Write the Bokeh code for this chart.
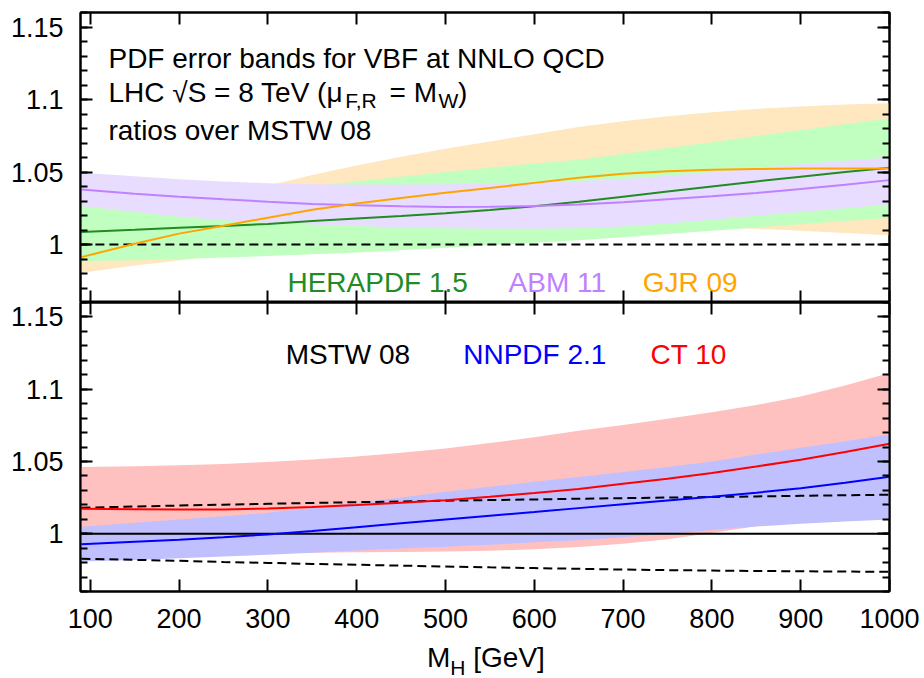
import numpy as np
from bokeh.plotting import figure
from bokeh.layouts import column
from bokeh.models import FixedTicker, LinearAxis, Label, Range1d, Div
from bokeh.embed import file_html
from bokeh.resources import INLINE

# Higgs mass grid [GeV]
mh = [90, 150, 200, 250, 300, 350, 400, 450, 500, 550, 600, 650, 700, 750, 800, 850, 900, 950, 1000]

# ---- upper panel: ratios over MSTW 08 ----
gjr_c = [0.9913, 1.0005, 1.0075, 1.0130, 1.0185, 1.0240, 1.0283, 1.0320, 1.0357, 1.0390, 1.0425, 1.0460,
         1.0488, 1.0505, 1.0515, 1.0521, 1.0524, 1.0525, 1.0525]
gjr_hi = [1.012, 1.020, 1.027, 1.034, 1.0405, 1.048, 1.0545, 1.0605, 1.066, 1.071, 1.076, 1.081,
          1.085, 1.0885, 1.0912, 1.0935, 1.0952, 1.0965, 1.0975]
gjr_lo = [0.9805, 0.9855, 0.9890, 0.9930, 0.9965, 1.0000, 1.0030, 1.0055, 1.0075, 1.0090, 1.0100, 1.0110,
          1.0115, 1.0118, 1.0115, 1.0108, 1.0095, 1.0080, 1.0064]

hera_c = [1.0087, 1.0102, 1.0115, 1.0127, 1.0142, 1.0162, 1.0180, 1.0197, 1.0215, 1.0238, 1.0264, 1.0295,
          1.0330, 1.0365, 1.0400, 1.0435, 1.0468, 1.0500, 1.0530]
hera_hi = [1.027, 1.030, 1.032, 1.0345, 1.037, 1.040, 1.0435, 1.0468, 1.050, 1.053, 1.0558, 1.0585,
           1.0625, 1.0665, 1.0705, 1.0748, 1.079, 1.083, 1.087]
hera_lo = [0.9885, 0.9892, 0.9900, 0.9910, 0.9920, 0.9932, 0.9945, 0.9960, 0.9978, 0.9995, 1.0012, 1.0030,
           1.0050, 1.0072, 1.0095, 1.0118, 1.0140, 1.0162, 1.0184]

abm_c = [1.0380, 1.0350, 1.0330, 1.0312, 1.0295, 1.0280, 1.0270, 1.0263, 1.0259, 1.0260, 1.0265, 1.0276,
         1.0292, 1.0312, 1.0332, 1.0355, 1.0382, 1.0412, 1.0444]
abm_hi = [1.0494, 1.0470, 1.0450, 1.0435, 1.0423, 1.0416, 1.0413, 1.0413, 1.0415, 1.0420, 1.0428, 1.0438,
          1.0452, 1.0475, 1.0500, 1.0527, 1.0553, 1.0577, 1.0600]
abm_lo = [1.0265, 1.0225, 1.0192, 1.0168, 1.0150, 1.0138, 1.0128, 1.0118, 1.0112, 1.0108, 1.0108, 1.0112,
          1.0125, 1.0145, 1.0170, 1.0198, 1.0225, 1.0250, 1.0276]

# ---- lower panel ----
ct_c = [1.0173, 1.0170, 1.0168, 1.0168, 1.0175, 1.0185, 1.0198, 1.0215, 1.0232, 1.0255, 1.0282, 1.0310,
        1.0345, 1.0380, 1.0420, 1.0465, 1.0512, 1.0565, 1.0622]
ct_hi = [1.0461, 1.0466, 1.0473, 1.0483, 1.0497, 1.0514, 1.0535, 1.0560, 1.0590, 1.0627, 1.0668, 1.0712,
         1.0752, 1.0795, 1.0840, 1.0890, 1.0950, 1.1025, 1.1112]
ct_lo = [0.9850, 0.9855, 0.9858, 0.9862, 0.9865, 0.9869, 0.9871, 0.9873, 0.9876, 0.9882, 0.9892, 0.9908,
         0.9930, 0.9962, 1.0005, 1.0052, 1.0095, 1.0130, 1.0162]

nn_c = [0.9927, 0.9945, 0.9958, 0.9975, 0.9995, 1.0018, 1.0045, 1.0072, 1.0098, 1.0124, 1.0150, 1.0177,
        1.0204, 1.0230, 1.0256, 1.0284, 1.0315, 1.0352, 1.0394]
nn_hi = [1.0048, 1.0075, 1.0098, 1.0120, 1.0145, 1.0178, 1.0215, 1.0250, 1.0290, 1.0325, 1.0360, 1.0393,
         1.0427, 1.0462, 1.0500, 1.0548, 1.0594, 1.0640, 1.0686]
nn_lo = [0.9807, 0.9818, 0.9830, 0.9842, 0.9855, 0.9869, 0.9884, 0.9897, 0.9910, 0.9924, 0.9940, 0.9955,
         0.9975, 0.9998, 1.0025, 1.0050, 1.0068, 1.0085, 1.0099]

mstw_c = [1.0] * len(mh)
mstw_hi = [1.0180, 1.0188, 1.0195, 1.0201, 1.0207, 1.0213, 1.0218, 1.0223, 1.0228, 1.0233, 1.0237, 1.0242,
           1.0246, 1.0250, 1.0254, 1.0258, 1.0262, 1.0266, 1.0270]
mstw_lo = [0.9827, 0.9819, 0.9812, 0.9804, 0.9798, 0.9791, 0.9785, 0.9779, 0.9773, 0.9767, 0.9762, 0.9757,
           0.9752, 0.9748, 0.9745, 0.9742, 0.9740, 0.9738, 0.9736]

x_ticks = [100, 200, 300, 400, 500, 600, 700, 800, 900, 1000]
y_ticks = [1.0, 1.05, 1.1, 1.15]
y_tick_labels = ["1", "1.05", "1.1", "1.15"]
y_minor = [round(v, 2) for v in np.arange(0.96, 1.165, 0.01)]

FONT = "Liberation Sans"
TXT = "28px"
SUB = "21px"


def style_axis(ax, ticker, show_labels, overrides=None):
    ax.ticker = ticker
    ax.axis_line_color = "black"
    ax.axis_line_width = 2
    ax.major_tick_line_color = "black"
    ax.major_tick_line_width = 2
    ax.minor_tick_line_color = "black"
    ax.minor_tick_line_width = 2
    ax.major_tick_in = 12
    ax.major_tick_out = 0
    ax.minor_tick_in = 7
    ax.minor_tick_out = 0
    ax.major_label_text_font = FONT
    if show_labels:
        ax.major_label_text_font_size = "27px"
        ax.major_label_text_color = "black"
        ax.major_label_standoff = 17
        if overrides:
            ax.major_label_overrides = overrides
    else:
        # tick marks only on the mirrored sides
        ax.major_label_text_font_size = "0px"
        ax.major_label_text_color = None
        ax.major_label_standoff = 0


def make_panel(frame_h, border_top, border_bottom, x_labels):
    p = figure(frame_width=809, frame_height=frame_h,
               x_range=Range1d(89, 1000), y_range=Range1d(0.96, 1.16),
               output_backend="svg", toolbar_location=None,
               x_axis_location=None, y_axis_location=None,
               min_border_left=80, min_border_right=35,
               min_border_top=border_top, min_border_bottom=border_bottom)
    p.grid.visible = False
    p.outline_line_color = "black"
    p.outline_line_width = 2
    p.background_fill_color = "white"
    p.border_fill_color = "white"

    xt = FixedTicker(ticks=x_ticks, minor_ticks=[])
    yt = FixedTicker(ticks=y_ticks, minor_ticks=y_minor)
    overrides = {t: s for t, s in zip(y_ticks, y_tick_labels)}

    left = LinearAxis()
    style_axis(left, yt, True, overrides)
    right = LinearAxis()
    style_axis(right, yt, False)
    below = LinearAxis()
    style_axis(below, xt, x_labels)
    above = LinearAxis()
    style_axis(above, xt, False)
    p.add_layout(left, "left")
    p.add_layout(right, "right")
    p.add_layout(below, "below")
    p.add_layout(above, "above")
    return p


def label(p, x, y, text, color="black", size=TXT):
    p.add_layout(Label(x=x, y=y, text=text, text_color=color, text_font=FONT,
                       text_font_size=size, text_baseline="alphabetic", text_align="left"))


# ---------------- upper panel ----------------
top = make_panel(290, 12, 0, False)
top.varea(x=mh, y1=gjr_lo, y2=gjr_hi, fill_color="#FFE7BF")
top.varea(x=mh, y1=hera_lo, y2=hera_hi, fill_color="#C0FFC0")
top.varea(x=mh, y1=abm_lo, y2=abm_hi, fill_color="#E9DDFF")
top.line(mh, mstw_c, line_color="black", line_width=2, line_dash="9 5")
top.line(mh, hera_c, line_color="#228B22", line_width=2)
top.line(mh, abm_c, line_color="#C080FF", line_width=2)
top.line(mh, gjr_c, line_color="#FFA500", line_width=2)

label(top, 120.5, 1.1285, "PDF error bands for VBF at NNLO QCD")
label(top, 120.5, 1.1047, "LHC \u221aS = 8 TeV (\u03bc")
label(top, 387.0, 1.0990, "F,R", size=SUB)
label(top, 437.0, 1.1047, "= M")
label(top, 492.0, 1.0990, "W", size=SUB)
label(top, 514.0, 1.1047, ")")
label(top, 120.5, 1.0787, "ratios over MSTW 08")
label(top, 322, 0.9735, "HERAPDF 1.5", color="#228B22")
label(top, 571, 0.9735, "ABM 11", color="#C080FF")
label(top, 722, 0.9735, "GJR 09", color="#FFA500")

# ---------------- lower panel ----------------
bot = make_panel(289, 0, 52, True)
bot.varea(x=mh, y1=ct_lo, y2=ct_hi, fill_color="#FFC0C0")
bot.varea(x=mh, y1=nn_lo, y2=nn_hi, fill_color="#C0C0FF")
bot.line(mh, mstw_c, line_color="black", line_width=2)
bot.line(mh, mstw_hi, line_color="black", line_width=2, line_dash="9 5")
bot.line(mh, mstw_lo, line_color="black", line_width=2, line_dash="9 5")
bot.line(mh, ct_c, line_color="#FF0000", line_width=2)
bot.line(mh, nn_c, line_color="#0000FF", line_width=2)

label(bot, 320, 1.1241, "MSTW 08")
label(bot, 520, 1.1241, "NNPDF 2.1", color="#0000FF")
label(bot, 731, 1.1241, "CT 10", color="#FF0000")

# x-axis title with subscript, set as HTML under the lower panel
xtitle = Div(
    text=('<div style="position:relative;width:924px;height:35px;">'
          '<span style="position:absolute;left:427px;top:1px;font-family:\'Liberation Sans\';'
          'font-size:28px;line-height:28px;white-space:nowrap;color:black;">'
          'M<span style="font-size:21px;position:relative;top:8px;">H</span> [GeV]</span></div>'),
    width=924, height=35, margin=(0, 0, 0, 0))

layout = column(top, bot, xtitle, spacing=0)
open("out.html", "w").write(file_html(layout, INLINE))
